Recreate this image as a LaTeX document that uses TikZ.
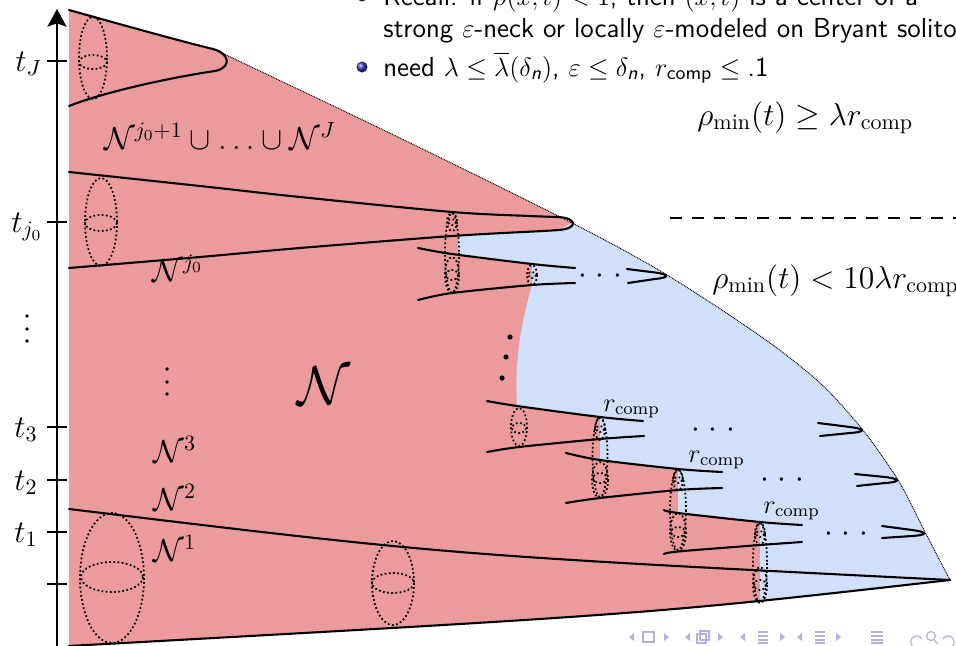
\documentclass[tikz,border=0pt]{standalone}
\usepackage{amsmath,amssymb}
\usepackage{fontspec}
\usetikzlibrary{arrows.meta}
\definecolor{rfill}{RGB}{235,155,155}
\definecolor{bfill}{RGB}{208,224,250}
\definecolor{navc}{RGB}{178,178,220}
\definecolor{ballc}{rgb}{0.2,0.2,0.7}
\newcommand\threedots{$\cdotp\kern1.6pt\cdotp\kern1.6pt\cdotp$}
\tikzset{
  curve/.style={line width=0.95pt, line join=round, line cap=round},
  sph/.style={line width=0.8pt, dash pattern=on 0.8pt off 1.1pt},
  bnd/.style={line width=0.45pt, dash pattern=on 0.4pt off 0.4pt, black},
  lab/.style={inner sep=0pt, font=\fontsize{14.4}{17}\selectfont},
  sml/.style={inner sep=0pt, font=\fontsize{12}{14}\selectfont},
  big/.style={inner sep=0pt, font=\fontsize{24.88}{30}\selectfont},
  txt/.style={inner sep=0pt, font=\sffamily\fontsize{12.5}{15}\selectfont},
  tickmark/.style={line width=1pt},
  vdot/.style={fill=black},
  navsym/.style={navc, line width=0.55pt}
}
\begin{document}
\begin{tikzpicture}[x=0.4545pt,y=-0.4545pt]
\useasboundingbox (0,0) rectangle (956,646);
\def\bndpts{(222,53) (400,138) (572,223) (667,275) (763,338) (820,383) (862,429) (898,480) (925,532) (950,580)}
% ---------- fills ----------
\begin{scope}
\clip (69,10) .. controls (130,27) and (180,41) .. (213,49) -- (222,53)
  -- plot[smooth] coordinates {\bndpts}
  .. controls (650,614) .. (69,646) -- cycle;
\fill[rfill] (0,0) rectangle (956,646);
\fill[bfill] (458,235.5) -- (458,255) -- (532,264) -- (532,285)
  .. controls (522,320) and (514,360) .. (517,406) -- (600,417) -- (600,460)
  -- (678,469) -- (678,513) -- (760,522) -- (760,700) -- (1000,700) -- (1000,223)
  -- (572,223) -- (558,230) -- (543,231) -- cycle;
\end{scope}
% ---------- boundary ----------
\draw[bnd] plot[smooth] coordinates {\bndpts};
% ---------- curves ----------
\draw[curve] (69,10) .. controls (130,27) and (180,41) .. (213,49) .. controls (231,54) and (231,68) .. (215,71) .. controls (180,76) and (110,90) .. (69,106);
\draw[curve] plot[smooth] coordinates {(69,172) (200,186) (300,197) (452,212) (530,216) (558,217)}
  .. controls (578,218) and (578,229) .. (558,230)
  -- plot[smooth] coordinates {(558,230) (543,231) (452,236) (300,248) (200,257) (69,268)};
\draw[curve] plot[smooth] coordinates {(418,248) (452,254) (532,264) (575,268)};
\draw[curve] plot[smooth] coordinates {(418,300) (452,293) (532,285) (575,283)};
\draw[curve] (627,269) -- (655,272.5) .. controls (670,274.5) and (670,277.5) .. (655,279) -- (628,283);
\draw[curve] plot[smooth] coordinates {(487,401) (517,406) (600,417) (643,421)};
\draw[curve] plot[smooth] coordinates {(487,452) (519,447) (600,439) (644,436)};
\draw[curve] (818,423) -- (850,427) .. controls (866,429) and (866,432) .. (850,433) -- (820,436);
\draw[curve] plot[smooth] coordinates {(566,453) (600,460) (678,469) (722,472)};
\draw[curve] plot[smooth] coordinates {(566,503) (600,498) (678,490) (722,488)};
\draw[curve] (855,474) -- (885,477) .. controls (901,479) and (901,482) .. (885,483) -- (857,486);
\draw[curve] plot[smooth] coordinates {(664,510) (678,513) (760,522) (802,525)};
\draw[curve] plot[smooth] coordinates {(664,554) (678,551.5) (760,545) (802,542)};
\draw[curve] (882,526) -- (912,530) .. controls (928,532) and (928,535) .. (912,536) -- (882,538);
\draw[curve] (69,509) .. controls (450,555) .. (950,580);
\draw[curve] (69,646) .. controls (650,614) .. (950,580);
% ---------- spheres ----------
\draw[sph] (93,58) ellipse [x radius=14, y radius=41];
\draw[sph] (93,62) ellipse [x radius=14, y radius=7];
\draw[sph] (101,222) ellipse [x radius=16, y radius=44];
\draw[sph] (101,223) ellipse [x radius=16, y radius=8];
\draw[sph] (452,253) ellipse [x radius=7, y radius=40];
\draw[sph] (452,222) ellipse [x radius=5, y radius=9];
\draw[sph] (452,222) ellipse [x radius=4, y radius=3];
\draw[sph] (452,275) ellipse [x radius=7, y radius=18];
\draw[sph] (452,275) ellipse [x radius=6, y radius=5];
\draw[sph] (532,275) ellipse [x radius=5, y radius=10];
\draw[sph] (532,275) ellipse [x radius=4, y radius=3];
\draw[sph] (519,427) ellipse [x radius=8, y radius=19];
\draw[sph] (519,428) ellipse [x radius=7, y radius=5];
\draw[sph] (600,457) ellipse [x radius=7.5, y radius=40];
\draw[sph] (600,429) ellipse [x radius=5, y radius=11];
\draw[sph] (600,429) ellipse [x radius=4, y radius=3];
\draw[sph] (600,480) ellipse [x radius=8, y radius=18];
\draw[sph] (600,478) ellipse [x radius=7, y radius=5];
\draw[sph] (678,510) ellipse [x radius=8, y radius=40];
\draw[sph] (678,480) ellipse [x radius=5, y radius=10];
\draw[sph] (678,480) ellipse [x radius=4, y radius=3];
\draw[sph] (678,532) ellipse [x radius=8, y radius=19];
\draw[sph] (678,532) ellipse [x radius=7, y radius=5];
\draw[sph] (760,563) ellipse [x radius=7, y radius=40];
\draw[sph] (760,534) ellipse [x radius=5, y radius=11];
\draw[sph] (760,534) ellipse [x radius=4, y radius=3];
\draw[sph] (760,585) ellipse [x radius=7, y radius=18];
\draw[sph] (760,585) ellipse [x radius=6, y radius=5];
\draw[sph] (112,578) ellipse [x radius=32, y radius=65];
\draw[sph] (112,577) ellipse [x radius=31, y radius=15];
\draw[sph] (393,583) ellipse [x radius=21, y radius=42];
\draw[sph] (393,583) ellipse [x radius=21, y radius=10];
% ---------- dots ----------
\fill[vdot] (510,337) circle [radius=2.6];
\fill[vdot] (506,357) circle [radius=2.6];
\fill[vdot] (502,378) circle [radius=2.6];
\foreach \yy in {316,329,341} \fill[vdot] (27,\yy) circle [radius=1.8];
\foreach \yy in {369,382,394} \fill[vdot] (167,\yy) circle [radius=1.8];
% ---------- axis ----------
\draw[line width=1.2pt, -{Stealth[length=8pt,width=8.6pt,inset=1.5pt]}] (57,646) -- (57,9);
\foreach \yy in {61,222,427,480,532,584} \draw[tickmark] (47,\yy) -- (67,\yy);
\node[lab, anchor=base west] (tJ) at (15,71) {$t_J$};
\node[lab, anchor=base west] (tj0) at (11,232) {$t_{j_0}$};
\node[lab, anchor=base west] (t3) at (14,437) {$t_3$};
\node[lab, anchor=base west] (t2) at (14,490) {$t_2$};
\node[lab, anchor=base west] (t1) at (14,542) {$t_1$};
% ---------- region labels ----------
\node[lab, anchor=base] (Nup) at (220,149) {$\mathcal{N}^{j_0+1}\cup\ldots\cup\mathcal{N}^J$};
\node[lab, anchor=base west] (Nj0) at (152,281) {$\mathcal{N}^{j_0}$};
\node[big, anchor=base west] (N) at (297,404) {$\mathcal{N}$};
\node[lab, anchor=base west] (N3) at (153,462) {$\mathcal{N}^3$};
\node[lab, anchor=base west] (N2) at (153,510) {$\mathcal{N}^2$};
\node[lab, anchor=base west] (N1) at (153,561) {$\mathcal{N}^1$};
\node[lab] (dA) at (600,276) {\threedots};
\node[lab] (d3) at (713,430) {\threedots};
\node[lab] (d2) at (782,480) {\threedots};
\node[lab] (d1) at (846,534) {\threedots};
\node[sml, anchor=base west] (r3) at (603,411) {$r_{\mathrm{comp}}$};
\node[sml, anchor=base west] (r2) at (688,462) {$r_{\mathrm{comp}}$};
\node[sml, anchor=base west] (r1) at (763,513) {$r_{\mathrm{comp}}$};
\node[lab, anchor=base west] (rhoA) at (697,125) {$\rho_{\min}(t)\ge\lambda r_{\mathrm{comp}}$};
\node[lab, anchor=base west] (rhoB) at (712,288) {$\rho_{\min}(t)<10\lambda r_{\mathrm{comp}}$};
\draw[line width=0.9pt, dash pattern=on 5.4pt off 4.5pt] (670,218) -- (960,218);
% ---------- slide text ----------
\shade[ball color=ballc] (362,-4) circle [radius=5.5];
\shade[ball color=ballc] (362,67) circle [radius=5.5];
\node[txt, anchor=base west] (l1) at (383,5) {Recall: if $\rho(x,t)<1$, then $(x,t)$ is a center of a};
\node[txt, anchor=base west] (l2) at (383,37) {strong $\varepsilon$-neck or locally $\varepsilon$-modeled on Bryant soliton};
\node[txt, anchor=base west] (l3) at (383,76) {need $\lambda\le\overline{\lambda}(\delta_{\textsf{\textit{n}}})$, $\varepsilon\le\delta_{\textsf{\textit{n}}}$, $r_{\textsf{comp}}\le\textsf{.1}$};
% ---------- navigation symbols ----------
\begin{scope}[navsym]
\fill (629,637) -- (634,633) -- (634,641) -- cycle;
\draw (643,632) rectangle (654,642);
\fill (669,637) -- (664,633) -- (664,641) -- cycle;
\fill (685,637) -- (690,633) -- (690,641) -- cycle;
\draw (697,634) rectangle (706,643);
\draw (700,631) rectangle (709,640);
\fill (723,637) -- (718,633) -- (718,641) -- cycle;
\fill (740,637) -- (745,633) -- (745,641) -- cycle;
\draw (758,632) -- (768,632) (758,636) -- (768,636) (758,640) -- (768,640) (758,643) -- (768,643);
\fill (785,637) -- (780,633) -- (780,641) -- cycle;
\fill (797,637) -- (802,633) -- (802,641) -- cycle;
\draw (815,632) -- (825,632) (815,636) -- (825,636) (815,640) -- (825,640) (815,643) -- (825,643);
\fill (841,637) -- (836,633) -- (836,641) -- cycle;
\draw (871,632) -- (883,632) (871,636) -- (883,636) (871,640) -- (883,640) (871,643) -- (883,643);
\draw[-{Stealth[length=2pt,width=2.5pt]}] (922,639) arc [start angle=-30, end angle=-300, radius=6];
\draw (931,636) circle [radius=4.5] (934,640) -- (938,644);
\draw[-{Stealth[length=2pt,width=2.5pt]}] (943,639) arc [start angle=210, end angle=480, radius=6];
\end{scope}
\end{tikzpicture}
\end{document}
